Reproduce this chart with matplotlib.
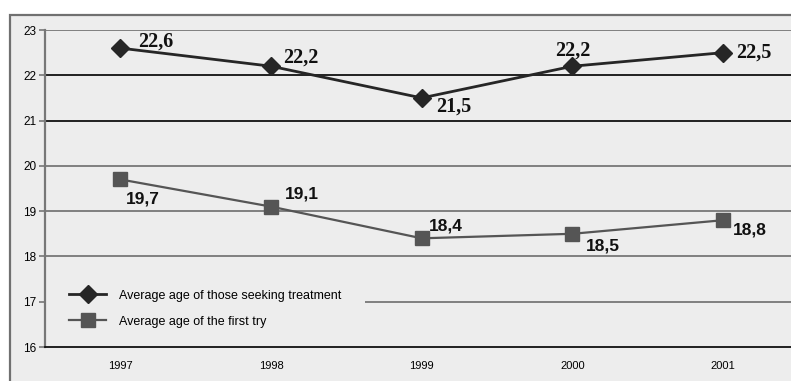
import matplotlib.pyplot as plt
from matplotlib.patches import Rectangle

# average ages per year
years = ["1997", "1998", "1999", "2000", "2001"]
age_treatment = [22.6, 22.2, 21.5, 22.2, 22.5]
age_first_try = [19.7, 19.1, 18.4, 18.5, 18.8]
label_treatment = "Average age of those seeking treatment"
label_first_try = "Average age of the first try"

# label offsets (points) and alignment for each value
off_treatment = [((13, 5), "left"), ((9, 6), "left"), ((10, -6), "left"), ((0, 11), "center"), ((9, 0), "left")]
off_first_try = [((16, -14), "center"), ((10, 9), "left"), ((5, 9), "left"), ((10, -9), "left"), ((7, -7), "left")]

narrow = ["Liberation Sans Narrow", "Liberation Sans", "DejaVu Sans"]
bg = "#ededed"

fig = plt.figure(figsize=(7.91, 3.81), dpi=100)
fig.patch.set_facecolor("white")
frame = Rectangle((10 / 791, -0.05), 1.0, (366 / 381) + 0.05,
                  transform=fig.transFigure, facecolor=bg,
                  edgecolor="#707070", linewidth=1.6, zorder=-10)
fig.patches.append(frame)

ax = fig.add_axes([45 / 791, 34 / 381, 746 / 791, 317 / 381])
ax.set_zorder(2)
ax.set_facecolor("none")
x = list(range(len(years)))

ax.plot(x, age_treatment, color="#262626", lw=2.0, marker="D", ms=9.5,
        label=label_treatment, zorder=4)
ax.plot(x, age_first_try, color="#555555", lw=1.6, marker="s", ms=10,
        label=label_first_try, zorder=4)

for i, v in enumerate(age_treatment):
    (dx, dy), ha = off_treatment[i]
    ax.annotate(f"{v:.1f}".replace(".", ","), (i, v), xytext=(dx, dy),
                textcoords="offset points", ha=ha, va="center",
                fontsize=14.5, fontweight="bold", family="Liberation Serif",
                color="#111111", zorder=6)
for i, v in enumerate(age_first_try):
    (dx, dy), ha = off_first_try[i]
    ax.annotate(f"{v:.1f}".replace(".", ","), (i, v), xytext=(dx, dy),
                textcoords="offset points", ha=ha, va="center",
                fontsize=12.5, fontweight="bold", family="Liberation Sans",
                color="#111111", zorder=6)

ax.set_xlim(-0.5, 4.45)
ax.set_ylim(16, 23)
ax.set_yticks(range(16, 24))
ax.set_xticks(x)
ax.set_xticklabels(years, family=narrow, fontsize=8)
for t in ax.get_yticklabels():
    t.set_family(narrow)
    t.set_fontsize(8.5)
ax.tick_params(axis="x", length=0, pad=10)
ax.tick_params(axis="y", length=4, width=1.2, color="#777777", pad=2)

# horizontal rules at each whole year of age
for yv in range(17, 24):
    col = "#111111" if yv in (21, 22) else "#777777"
    ax.axhline(yv, color=col, lw=1.3, zorder=1)

for s in ("top", "right"):
    ax.spines[s].set_visible(False)
ax.spines["left"].set_color("#777777")
ax.spines["left"].set_linewidth(1.6)
ax.spines["bottom"].set_color("#111111")
ax.spines["bottom"].set_linewidth(1.3)

# legend box shares the background and hides the rule behind it
leg = ax.legend(loc="center left", bbox_to_anchor=(0.0, 0.121),
                borderaxespad=0.0,
                prop={"family": narrow, "size": 9}, frameon=True,
                facecolor=bg, edgecolor="none", framealpha=1,
                handlelength=3.0, handletextpad=1.0, labelspacing=1.1,
                borderpad=1.9, fancybox=False)
leg.set_zorder(2)

fig.savefig("out.png", dpi=100, facecolor=fig.get_facecolor())
